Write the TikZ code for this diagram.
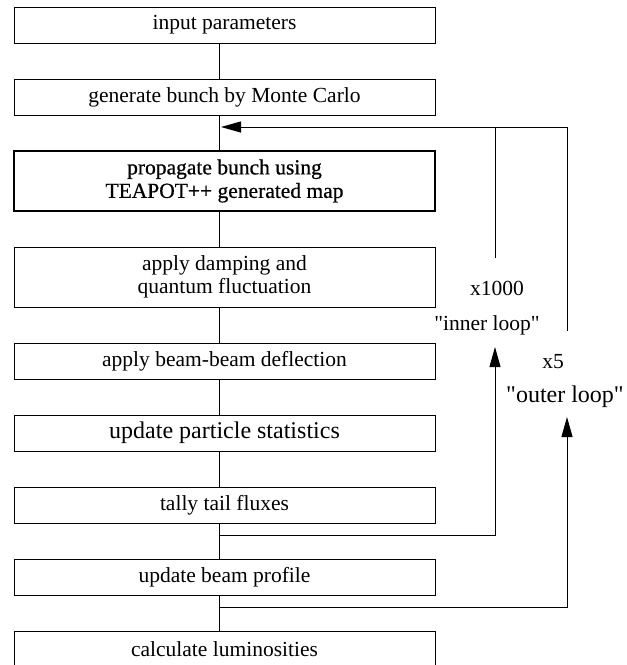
\documentclass[tikz,border=0pt]{standalone}
\usepackage{fontspec}
\setmainfont{Liberation Serif}
\newfontfamily\darkserif[FakeBold=0.6]{Liberation Serif}
\newfontfamily\plainserif[Ligatures=ResetAll]{Liberation Serif}
\usetikzlibrary{arrows.meta}
\newcommand{\txtsize}{\fontsize{21.5}{23.5}\selectfont}
\newcommand{\bigsize}{\fontsize{24}{26}\selectfont}

\begin{document}
\begin{tikzpicture}[x=1pt, y=-1pt, line width=1pt,
    every node/.style={font=\txtsize, inner sep=0pt},
    stepbox/.style={draw, minimum width=421pt, minimum height=36pt, align=center},
    tallbox/.style={stepbox, minimum height=60pt},
    tip/.style={-{Triangle[length=20pt, width=11pt]}}]
  \clip (0,0) rectangle (627,665);
  % flow of one run
  \node[stepbox] (b1) at (224.5,25) {input parameters};
  \node[stepbox] (b2) at (224.5,97) {generate bunch by Monte Carlo};
  \node[tallbox, line width=1.7pt, font=\txtsize\darkserif] (b3) at (224.5,181)
    {propagate bunch using\\TEAPOT++ generated map};
  \node[tallbox] (b4) at (224.5,277) {apply damping and\\quantum fluctuation};
  \node[stepbox] (b5) at (224.5,361) {apply beam-beam deflection};
  \node[stepbox, font=\bigsize] (b6) at (224.5,433) {update particle statistics};
  \node[stepbox] (b7) at (224.5,505) {tally tail fluxes};
  \node[stepbox] (b8) at (224.5,577) {update beam profile};
  \node[stepbox] (b9) at (224.5,649) {calculate luminosities};
  % spine between the boxes
  \coordinate (spine) at (219,0);
  \foreach \a/\b in {b1/b2,b2/b3,b3/b4,b4/b5,b5/b6,b6/b7,b7/b8,b8/b9}
    \draw (\a.south -| spine) -- (\b.north -| spine);
  % loop columns
  \coordinate (ret) at (221,127);
  \coordinate (inA) at (495,347);
  \coordinate (inB) at (495,258);
  \coordinate (outA) at (567,417);
  \coordinate (outB) at (567,331);
  \draw[tip] (b7.south -| spine) ++(0,12) -| (inA);
  \draw[tip] (b8.south -| spine) ++(0,12) -| (outA);
  \draw[tip] (outB) |- (ret);
  \draw (inB) -- (inB |- ret);
  % loop labels
  \node (inN) at (497,288) {x1000};
  \node[font=\txtsize\plainserif] (inL) at (487,325) {"inner loop"};
  \node (outN) at (553,362) {x5};
  \node[font=\bigsize\plainserif] (outL) at (565,397) {"outer loop"};
\end{tikzpicture}
\end{document}
